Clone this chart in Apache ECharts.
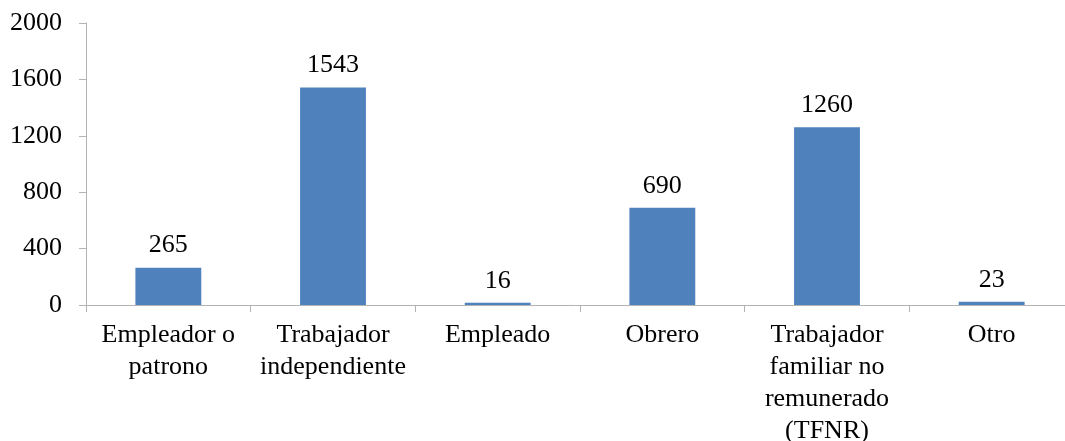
<!DOCTYPE html>
<html>
<head>
<meta charset="utf-8">
<script src="https://cdn.jsdelivr.net/npm/echarts@6/dist/echarts.min.js"></script>
<style>
  html, body { margin: 0; padding: 0; background: #fff; }
  #main { width: 1065px; height: 441px; }
</style>
</head>
<body>
<div id="main"></div>
<script>
var categorias = ['Empleador o\npatrono', 'Trabajador\nindependiente', 'Empleado', 'Obrero',
  'Trabajador\nfamiliar no\nremunerado\n(TFNR)', 'Otro'];
var valores = [265, 1543, 16, 690, 1260, 23];
var yMin = 0, yMax = 2000, yPaso = 400;

var fuente = 'Liberation Serif';
var chart = echarts.init(document.getElementById('main'));

var option = {
  backgroundColor: '#ffffff',
  animation: false,
  grid: {
    left: 86,
    right: -9,
    top: 23,
    bottom: 136,
    outerBoundsMode: 'none',
    containLabel: false
  },
  xAxis: {
    type: 'category',
    data: categorias,
    axisLine: { lineStyle: { color: '#b3b3b3', width: 1 } },
    axisTick: { show: true, alignWithLabel: false, length: 7, lineStyle: { color: '#b3b3b3' } },
    axisLabel: {
      interval: 0,
      margin: 14,
      color: '#000',
      fontFamily: fuente,
      fontSize: 26,
      lineHeight: 32
    }
  },
  yAxis: {
    type: 'value',
    min: yMin,
    max: yMax,
    interval: yPaso,
    splitLine: { show: false },
    axisLine: { show: true, lineStyle: { color: '#b3b3b3', width: 1 } },
    axisTick: { show: true, length: 7, lineStyle: { color: '#b3b3b3' } },
    axisLabel: {
      margin: 24,
      color: '#000',
      fontFamily: fuente,
      fontSize: 26,
      formatter: function (v) { return String(v); }
    }
  },
  series: [{
    type: 'bar',
    data: valores,
    barWidth: '40%',
    itemStyle: { color: '#4f81bd' },
    label: {
      show: true,
      position: 'top',
      distance: 9,
      color: '#000',
      fontFamily: fuente,
      fontSize: 26
    }
  }]
};

chart.setOption(option);
</script>
</body>
</html>
